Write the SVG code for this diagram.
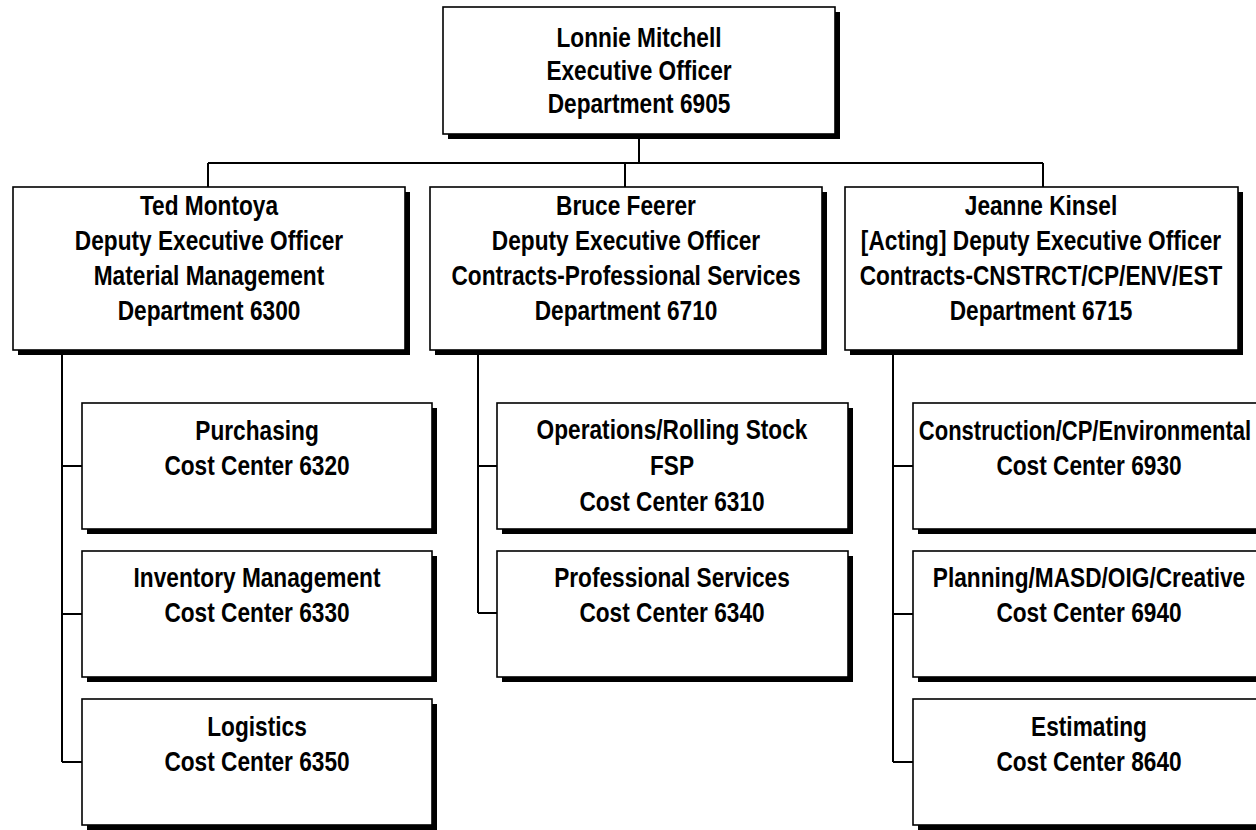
<svg xmlns="http://www.w3.org/2000/svg" width="1256" height="830" viewBox="0 0 1256 830">
<style>
.box{fill:#fff;stroke:#000;stroke-width:1.6}
.sh{fill:#000}
.t{font-family:"Liberation Sans",Arial,Helvetica,sans-serif;font-weight:bold;font-size:27px;text-anchor:middle;fill:#000}
.c{fill:none;stroke:#000;stroke-width:2}
</style>
<rect width="1256" height="830" fill="#fff"/>
<g id="connectors" class="c">
<path d="M639 139V163M208 163H1043M208 163V187M625 163V187M1043 163V187"/>
<path d="M62 355V762M62 466H82M62 614H82M62 762H82"/>
<path d="M478 355V613M478 466H497M478 613H497"/>
<path d="M893 355V762M893 466H913M893 614H913M893 762H913"/>
</g>
<g id="n-lonnie">
<rect class="sh" x="448" y="12" width="392" height="127"/>
<rect class="box" x="443" y="7" width="392" height="127"/>
<text class="t" transform="translate(639 0) scale(0.84 1)"><tspan x="0" y="47">Lonnie Mitchell</tspan><tspan x="0" y="80">Executive Officer</tspan><tspan x="0" y="113">Department 6905</tspan></text>
</g>
<g id="n-ted">
<rect class="sh" x="18" y="192" width="392" height="163"/>
<rect class="box" x="13" y="187" width="392" height="163"/>
<text class="t" transform="translate(209 0) scale(0.84 1)"><tspan x="0" y="215">Ted Montoya</tspan><tspan x="0" y="250">Deputy Executive Officer</tspan><tspan x="0" y="285">Material Management</tspan><tspan x="0" y="320">Department 6300</tspan></text>
</g>
<g id="n-bruce">
<rect class="sh" x="435" y="192" width="392" height="163"/>
<rect class="box" x="430" y="187" width="392" height="163"/>
<text class="t" transform="translate(626 0) scale(0.84 1)"><tspan x="0" y="215">Bruce Feerer</tspan><tspan x="0" y="250">Deputy Executive Officer</tspan><tspan x="0" y="285">Contracts-Professional Services</tspan><tspan x="0" y="320">Department 6710</tspan></text>
</g>
<g id="n-jeanne">
<rect class="sh" x="850" y="192" width="393" height="163"/>
<rect class="box" x="845" y="187" width="393" height="163"/>
<text class="t" transform="translate(1041 0) scale(0.84 1)"><tspan x="0" y="215">Jeanne Kinsel</tspan><tspan x="0" y="250">[Acting] Deputy Executive Officer</tspan><tspan x="0" y="285">Contracts-CNSTRCT/CP/ENV/EST</tspan><tspan x="0" y="320">Department 6715</tspan></text>
</g>
<g id="n-purchasing">
<rect class="sh" x="87" y="408" width="350" height="126"/>
<rect class="box" x="82" y="403" width="350" height="126"/>
<text class="t" transform="translate(257 0) scale(0.84 1)"><tspan x="0" y="440">Purchasing</tspan><tspan x="0" y="475">Cost Center 6320</tspan></text>
</g>
<g id="n-inventory">
<rect class="sh" x="87" y="556" width="350" height="126"/>
<rect class="box" x="82" y="551" width="350" height="126"/>
<text class="t" transform="translate(257 0) scale(0.84 1)"><tspan x="0" y="587">Inventory Management</tspan><tspan x="0" y="622">Cost Center 6330</tspan></text>
</g>
<g id="n-logistics">
<rect class="sh" x="87" y="704" width="350" height="126"/>
<rect class="box" x="82" y="699" width="350" height="126"/>
<text class="t" transform="translate(257 0) scale(0.84 1)"><tspan x="0" y="736">Logistics</tspan><tspan x="0" y="771">Cost Center 6350</tspan></text>
</g>
<g id="n-operations">
<rect class="sh" x="502" y="408" width="351" height="126"/>
<rect class="box" x="497" y="403" width="351" height="126"/>
<text class="t" transform="translate(672 0) scale(0.84 1)"><tspan x="0" y="439">Operations/Rolling Stock</tspan><tspan x="0" y="475">FSP</tspan><tspan x="0" y="511">Cost Center 6310</tspan></text>
</g>
<g id="n-professional">
<rect class="sh" x="502" y="556" width="351" height="126"/>
<rect class="box" x="497" y="551" width="351" height="126"/>
<text class="t" transform="translate(672 0) scale(0.84 1)"><tspan x="0" y="587">Professional Services</tspan><tspan x="0" y="622">Cost Center 6340</tspan></text>
</g>
<g id="n-construction">
<rect class="sh" x="918" y="408" width="352" height="126"/>
<rect class="box" x="913" y="403" width="352" height="126"/>
<text class="t" transform="translate(1085 0) scale(0.815 1)"><tspan x="0" y="440">Construction/CP/Environmental</tspan></text>
<text class="t" transform="translate(1089 0) scale(0.84 1)"><tspan x="0" y="475">Cost Center 6930</tspan></text>
</g>
<g id="n-planning">
<rect class="sh" x="918" y="556" width="352" height="126"/>
<rect class="box" x="913" y="551" width="352" height="126"/>
<text class="t" transform="translate(1089 0) scale(0.84 1)"><tspan x="0" y="587">Planning/MASD/OIG/Creative</tspan><tspan x="0" y="622">Cost Center 6940</tspan></text>
</g>
<g id="n-estimating">
<rect class="sh" x="918" y="704" width="352" height="126"/>
<rect class="box" x="913" y="699" width="352" height="126"/>
<text class="t" transform="translate(1089 0) scale(0.84 1)"><tspan x="0" y="736">Estimating</tspan><tspan x="0" y="771">Cost Center 8640</tspan></text>
</g>
</svg>
